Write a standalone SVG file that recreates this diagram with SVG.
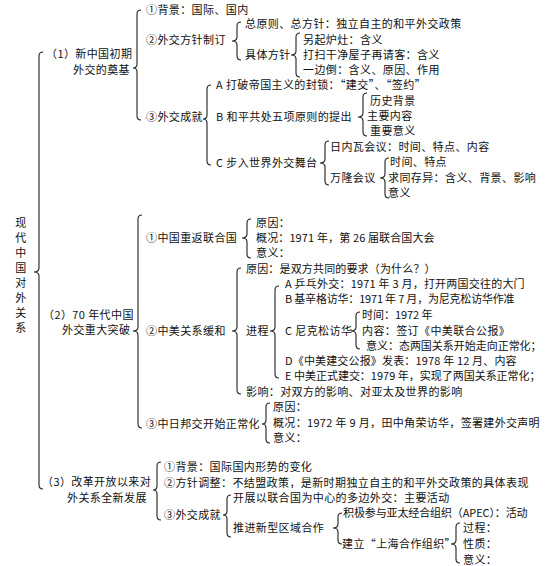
<svg xmlns="http://www.w3.org/2000/svg" width="558" height="566" viewBox="0 0 558 566">
<style>
text{font-family:"Noto Sans CJK SC","Noto Sans",sans-serif;font-size:11px;letter-spacing:0.4px;fill:#111}
.b{fill:none;stroke:#222;stroke-width:1.1}
.v{text-anchor:middle}
</style>
<rect width="558" height="566" fill="#fff"/>
<g id="connectors">
<path class="b" d="M43,52 Q39,52 39,56 L39,268 Q39,272 34,272 Q39,272 39,276 L39,485 Q39,489 43,489"/>
<path class="b" d="M141,10 Q137,10 137,14 L137,64 Q137,68 133,68 Q137,68 137,72 L137,116 Q137,120 141,120"/>
<path class="b" d="M241,22 Q237,22 237,26 L237,37 Q237,41 232,41 Q237,41 237,45 L237,56 Q237,60 241,60"/>
<path class="b" d="M300,33 Q296,33 296,37 L296,51 Q296,55 291,55 Q296,55 296,59 L296,73 Q296,77 300,77"/>
<path class="b" d="M211,85 Q207,85 207,89 L207,115 Q207,119 203,119 Q207,119 207,123 L207,161 Q207,165 211,165"/>
<path class="b" d="M367,93 Q363,93 363,97 L363,113 Q363,117 358,117 Q363,117 363,121 L363,132 Q363,136 367,136"/>
<path class="b" d="M329,141 Q325,141 325,145 L325,159 Q325,163 320,163 Q325,163 325,167 L325,181 Q325,185 329,185"/>
<path class="b" d="M389,158 Q385,158 385,162 L385,174 Q385,178 380,178 Q385,178 385,182 L385,194 Q385,198 389,198"/>
<path class="b" d="M142,215 Q138,215 138,219 L138,327 Q138,331 133,331 Q138,331 138,335 L138,424 Q138,428 142,428"/>
<path class="b" d="M251,219 Q247,219 247,223 L247,234 Q247,238 242,238 Q247,238 247,242 L247,254 Q247,258 251,258"/>
<path class="b" d="M241,268 Q237,268 237,272 L237,327 Q237,331 232,331 Q237,331 237,335 L237,390 Q237,394 241,394"/>
<path class="b" d="M279,286 Q275,286 275,290 L275,327 Q275,331 270,331 Q275,331 275,335 L275,374 Q275,378 279,378"/>
<path class="b" d="M360,312 Q356,312 356,316 L356,327 Q356,331 351,331 Q356,331 356,335 L356,345 Q356,349 360,349"/>
<path class="b" d="M270,403 Q266,403 266,407 L266,420 Q266,424 262,424 Q266,424 266,428 L266,439 Q266,443 270,443"/>
<path class="b" d="M161,462 Q157,462 157,466 L157,486 Q157,490 153,490 Q157,490 157,494 L157,516 Q157,520 161,520"/>
<path class="b" d="M231,495 Q227,495 227,499 L227,511 Q227,515 223,515 Q227,515 227,519 L227,533 Q227,537 231,537"/>
<path class="b" d="M342,513 Q338,513 338,517 L338,524 Q338,528 333,528 Q338,528 338,532 L338,540 Q338,544 342,544"/>
<path class="b" d="M460,523 Q456,523 456,527 L456,540 Q456,544 451,544 Q456,544 456,548 L456,559 Q456,563 460,563"/>
</g>
<g id="root">
<text class="v" x="21" y="227">现</text>
<text class="v" x="21" y="242">代</text>
<text class="v" x="21" y="257">中</text>
<text class="v" x="21" y="272">国</text>
<text class="v" x="21" y="287">对</text>
<text class="v" x="21" y="302">外</text>
<text class="v" x="21" y="317">关</text>
<text class="v" x="21" y="332">系</text>
</g>
<g id="s1">
<text x="46" y="58">（1）新中国初期</text>
<text x="73" y="74">外交的奠基</text>
</g>
<g id="s1-1"><text x="146" y="14">①背景：国际、国内</text></g>
<g id="s1-2"><text x="146" y="44">②外交方针制订</text></g>
<g id="s1-2a"><text x="245" y="28">总原则、总方针：独立自主的和平外交政策</text></g>
<g id="s1-2b"><text x="245" y="59">具体方针</text></g>
<g id="s1-2b-items">
<text x="303" y="44">另起炉灶：含义</text>
<text x="303" y="59">打扫干净屋子再请客：含义</text>
<text x="303" y="74">一边倒：含义、原因、作用</text>
</g>
<g id="s1-3"><text x="146" y="121">③外交成就</text></g>
<g id="s1-3a"><text x="216" y="89">A 打破帝国主义的封锁：“建交”、“签约”</text></g>
<g id="s1-3b"><text x="216" y="121">B 和平共处五项原则的提出</text></g>
<g id="s1-3b-items">
<text x="370" y="105">历史背景</text>
<text x="367" y="120">主要内容</text>
<text x="370" y="135">重要意义</text>
</g>
<g id="s1-3c"><text x="216" y="167">C 步入世界外交舞台</text></g>
<g id="s1-3c-items">
<text x="330" y="151">日内瓦会议：时间、特点、内容</text>
<text x="330" y="182">万隆会议</text>
<text x="390" y="166">时间、特点</text>
<text x="388" y="182">求同存异：含义、背景、影响</text>
<text x="388" y="197">意义</text>
</g>
<g id="s2">
<text x="43" y="319">（2）70 年代中国</text>
<text x="62" y="334">外交重大突破</text>
</g>
<g id="s2-1">
<text x="146" y="242">①中国重返联合国</text>
<text x="256" y="227">原因：</text>
<text x="256" y="242" textLength="179" lengthAdjust="spacing">概况：1971 年，第 26 届联合国大会</text>
<text x="256" y="257">意义：</text>
</g>
<g id="s2-2">
<text x="146" y="335">②中美关系缓和</text>
<text x="246" y="273" textLength="190" lengthAdjust="spacing">原因：是双方共同的要求（为什么？）</text>
<text x="246" y="335">进程</text>
<text x="246" y="396">影响：对双方的影响、对亚太及世界的影响</text>
</g>
<g id="s2-2-process">
<text x="285" y="288" textLength="240" lengthAdjust="spacing">A 乒乓外交：1971 年 3 月，打开两国交往的大门</text>
<text x="285" y="303" textLength="230" lengthAdjust="spacing">B 基辛格访华：1971 年 7 月，为尼克松访华作准</text>
<text x="285" y="335">C 尼克松访华</text>
<text x="285" y="365" textLength="232" lengthAdjust="spacing">D《中美建交公报》发表：1978 年 12 月、内容</text>
<text x="285" y="380" textLength="256" lengthAdjust="spacing">E 中美正式建交：1979 年，实现了两国关系正常化；</text>
</g>
<g id="s2-2-nixon">
<text x="362" y="319" textLength="71" lengthAdjust="spacing">时间：1972 年</text>
<text x="362" y="335">内容：签订《中美联合公报》</text>
<text x="366" y="350" textLength="176" lengthAdjust="spacing">意义：态两国关系开始走向正常化；</text>
</g>
<g id="s2-3">
<text x="146" y="428">③中日邦交开始正常化</text>
<text x="273" y="411">原因：</text>
<text x="273" y="427" textLength="267" lengthAdjust="spacing">概况：1972 年 9 月，田中角荣访华，签署建外交声明</text>
<text x="273" y="442">意义：</text>
</g>
<g id="s3">
<text x="42" y="486">（3）改革开放以来对</text>
<text x="67" y="502">外关系全新发展</text>
</g>
<g id="s3-1"><text x="164" y="471">①背景：国际国内形势的变化</text></g>
<g id="s3-2"><text x="164" y="487">②方针调整：不结盟政策，是新时期独立自主的和平外交政策的具体表现</text></g>
<g id="s3-3">
<text x="164" y="519">③外交成就</text>
<text x="233" y="502">开展以联合国为中心的多边外交：主要活动</text>
<text x="233" y="532">推进新型区域合作</text>
</g>
<g id="s3-3-region">
<text x="343" y="517" textLength="185" lengthAdjust="spacing">积极参与亚太经合组织（APEC）：活动</text>
<text x="342" y="548">建立“上海合作组织”</text>
</g>
<g id="s3-3-sco">
<text x="463" y="532">过程：</text>
<text x="463" y="548">性质：</text>
<text x="463" y="564">意义：</text>
</g>
</svg>
